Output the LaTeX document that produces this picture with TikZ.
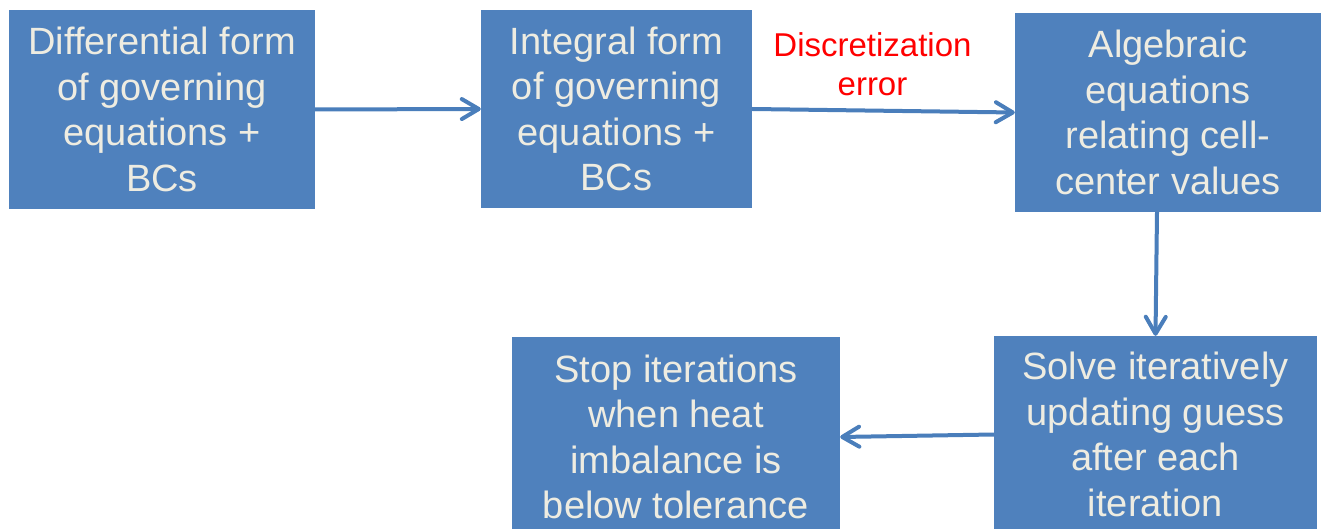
\documentclass[tikz,border=0pt]{standalone}
\usepackage{fontspec}
\setmainfont{Liberation Sans}
\usetikzlibrary{arrows.meta}
\definecolor{boxblue}{HTML}{4F81BD}
\definecolor{arrowblue}{HTML}{4A7EBB}
\definecolor{boxtext}{HTML}{EEECE1}
\tikzset{
  stepbox/.style={rectangle, fill=boxblue, draw=none, inner sep=0pt, align=center,
    text=boxtext, font=\fontsize{38}{45.5}\selectfont},
  flow/.style={draw=arrowblue, line width=4pt, -{Straight Barb[length=17pt,width=20pt,round]}},
}
\begin{document}
\begin{tikzpicture}[x=1pt,y=-1pt]
\useasboundingbox (0,0) rectangle (1322,529);
\node[stepbox, minimum width=306pt, minimum height=199pt] (b1) at (162,109.5)
  {Differential form\\of governing\\equations +\\BCs};
\node[stepbox, minimum width=271pt, minimum height=198pt] (b2) at (616.5,109)
  {Integral form\\of governing\\equations +\\BCs};
\node[stepbox, minimum width=306pt, minimum height=199pt] (b3) at (1168,112.5)
  {Algebraic\\equations\\relating cell-\\center values};
\node[stepbox, minimum width=323pt, minimum height=197pt] (b4) at (1155.5,434.5)
  {Solve iteratively\\updating guess\\after each\\iteration};
\node[stepbox, minimum width=328pt, minimum height=200pt] (b5) at (676,437)
  {Stop iterations\\when heat\\imbalance is\\below tolerance};
\node[align=center, text=red, inner sep=0pt, font=\fontsize{33}{39}\selectfont] (err) at (872.5,64)
  {Discretization\\error};
\draw[flow] (b1.east) -- (b2.west);
\draw[flow] (b2.east) -- (b3.west);
\draw[flow] ([xshift=-11pt]b3.south) -- (b4.north);
\draw[flow] (b4.west) -- (b5.east);
\end{tikzpicture}
\end{document}
